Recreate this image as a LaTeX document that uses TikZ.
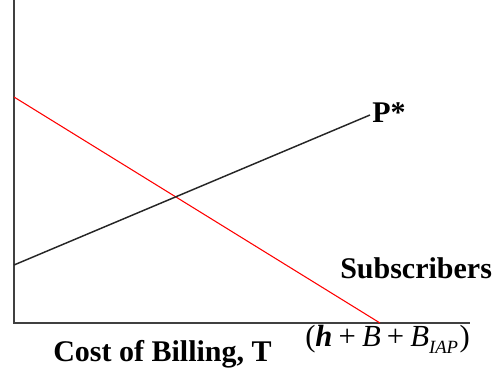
\documentclass[tikz,border=0pt]{standalone}
\usepackage{fontspec}
\setmainfont{Liberation Serif}
\begin{document}
\begin{tikzpicture}[x=0.75pt,y=-0.75pt,
  axis/.style={draw=black!75,line width=1.6pt},
  redline/.style={draw=red,line width=0.8pt},
  blackline/.style={draw=black!85,line width=1.1pt},
  lbl/.style={inner sep=0pt,anchor=base west,font=\fontsize{22.5}{27}\selectfont\bfseries},
  mlbl/.style={inner sep=0pt,anchor=base west,font=\fontsize{23}{27}\selectfont}]
\useasboundingbox (0,0) rectangle (494,375);
\coordinate (top) at (14,0);
\coordinate (origin) at (14,323);
\coordinate (xend) at (470,323);
\coordinate (r1) at (14,97);
\coordinate (r2) at (380,323);
\coordinate (b1) at (14,265);
\coordinate (b2) at (370,115);
\draw[axis] (top) -- (origin) -- (xend);
\draw[redline] (r1) -- (r2);
\draw[blackline] (b1) -- (b2);
\node[lbl] (pstar) at (372,122) {P*};
\node[lbl] (subs) at (340,278) {Subscribers};
\node[lbl] (cost) at (53,361) {Cost of Billing, T};
\node[mlbl] (hb) at (305,346) {(\textbf{\textit{h}}\hspace{0.2em}+\hspace{0.2em}\textit{B}\hspace{0.2em}+\hspace{0.2em}\textit{B}\raisebox{-0.5ex}{\fontsize{14}{14}\selectfont\textit{IAP}}\hspace{0.05em})};
\end{tikzpicture}
\end{document}
